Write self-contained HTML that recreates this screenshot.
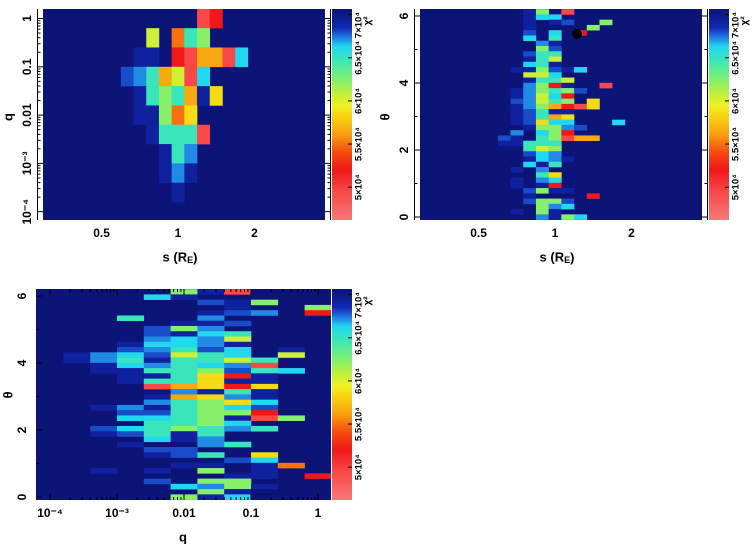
<!DOCTYPE html>
<html><head><meta charset="utf-8"><style>
html,body{margin:0;padding:0;background:#fff;}
svg{display:block;font-family:"Liberation Sans",sans-serif;font-weight:bold;}
</style></head><body>
<svg id="c" width="754" height="545" viewBox="0 0 754 545" xmlns="http://www.w3.org/2000/svg"></svg>
<script>
// ---- colour-level values (chi^2) for each grid code ----
const levelCodes = ['.','b','B','l','c','g','G','y','Y','o','O','r','R','p'];
const levelValues = [70650,69200,68000,67200,66300,64800,62300,60500,58500,56500,55000,52000,49500,47000];
// colour bar
const cbMin = 46200, cbMax = 70650;
const cbTicks = [50000,55000,60000,65000,70000];
const cbTickLabels = ['5×10⁴','5.5×10⁴','6×10⁴','6.5×10⁴','7×10⁴'];
// panel 1: s vs q grid (rows = log q bins 0,-0.4,...; cols = log s bins -0.5+0.05c)
const p1Rows = [
"............Rr........",
"........y.OgG.........",
".......bb.rRooRc......",
"......BlgoyRc.........",
".......bgGgobY........",
".......bbGOY..........",
"........bgggR.........",
".........bgl..........",
".........blb..........",
"..........b...........",
"......................"];
// panel 2: s vs theta (rows from theta bin 39 down to 0)
const p2Rows = [
"........bG.R..........",
"........bcc...........",
"........b.bB..G.......",
"........b....G........",
"........B.c.r.........",
"........c.g...........",
".........lb...........",
".........GB...........",
"........Bgg...........",
"........bgy...........",
"........cgb...........",
".......bbGBbc.........",
"........yyc...........",
"........bggy..........",
"........lGrb..R.......",
".......blGgGB.........",
".......blycr..........",
".......BlygG.Y........",
".......blGorRY........",
".......bBgbb..........",
".......bBgoY..........",
".......bBYcc...c......",
"........bGGlB.........",
".......l.cGr..........",
"......Bb.gGRoo........",
"......bbggg...........",
"........gyG...........",
"........Bcl...........",
"........bclb..........",
"........cbg...........",
".......b.l............",
".........gY...........",
".......b.lc...........",
".......b.br...........",
"........BGbb..........",
"........b....r........",
"........BGGB..........",
".........Glc..........",
".......b.Gb...........",
".........lbGc........."];
// panel 3: q vs theta (rows from theta bin 39 down to 0; cols log q = -4+0.4c)
const p3Rows = [
".....GbR...",
"....cb.....",
"......BbG..",
".......b..G",
"......bBl.r",
"...g..l....",
".....bbB...",
"....BGl....",
"....Bbcg...",
"....lcly...",
"...bcclb...",
"...BlgBc.b.",
".blcBygc.y.",
".blgbggyg..",
"..bclgclR..",
"..bbggGBgc.",
"...bbgYrb..",
"...bggYbb..",
"....RoYrY..",
".....lbgb..",
"....boYlb..",
"....lgGYc..",
"..blbgGcB..",
"...BBgGGr..",
"...ccgGbRG.",
"....ggGc...",
"..BcgGglg..",
"..bBgbg....",
"....cbl....",
"...b..lg...",
"....BB.....",
"....bBg.Y..",
".......Bc..",
".....bb.bO.",
"..b.b.G.b..",
".......bb.r",
"....B.GG...",
".....clGb..",
"......Gb...",
".....Gbc..."];
const sTicks = [0.5,1,2];
const sTickLabels = ['0.5','1','2'];
const qTicks1 = [0,-1,-2,-3,-4];
const qTickLabels1 = ['1','0.1','0.01','10⁻³','10⁻⁴'];
const thTicks = [0,2,4,6];
const thTickLabels = ['0','2','4','6'];
const qTicks3 = [-4,-3,-2,-1,0];
const qTickLabels3 = ['10⁻⁴','10⁻³','0.01','0.1','1'];

const NS='http://www.w3.org/2000/svg';
const svg=document.getElementById('c');
function mk(tag,attrs,parent){const e=document.createElementNS(NS,tag);for(const k in attrs)e.setAttribute(k,attrs[k]);(parent||svg).appendChild(e);return e;}
const stops=[[46200,[248,120,120]],[49500,[248,72,72]],[52000,[240,24,24]],[54000,[248,72,16]],[56000,[248,154,16]],[58000,[248,208,16]],[59500,[240,240,32]],[61000,[184,240,64]],[62500,[128,240,112]],[64500,[64,232,176]],[66300,[32,216,240]],[67500,[32,112,224]],[68500,[16,40,176]],[70650,[12,20,120]]];
function cmap(v){v=Math.max(stops[0][0],Math.min(stops[stops.length-1][0],v));for(let i=1;i<stops.length;i++){if(v<=stops[i][0]){const a=stops[i-1],b=stops[i],t=(v-a[0])/(b[0]-a[0]);const c=a[1].map((x,j)=>Math.round(x+(b[1][j]-x)*t));return 'rgb('+c.join(',')+')';}}}
function codeVal(ch){return levelValues[levelCodes.indexOf(ch)];}
let clipN=0;
function panel(name,x0,y0,x1,y1,rows,colCenter,colHalf,xf,rowCenter,rowHalf,yf){
  const g=mk('g',{});
  
  
  const id='cl'+(clipN++);
  const cp=mk('clipPath',{id:id},g);mk('rect',{x:x0,y:y0,width:x1-x0,height:y1-y0},cp);
  const bg=mk('rect',{x:x0,y:y0,width:x1-x0,height:y1-y0,fill:cmap(codeVal('.'))},g);
  
  
  const cg=mk('g',{'clip-path':'url(#'+id+')'},g);
  rows.forEach((row,r)=>{for(let c=0;c<row.length;c++){const ch=row[c];if(ch==='.')continue;
    const xa=xf(colCenter(c)-colHalf),xb=xf(colCenter(c)+colHalf);
    const ya=yf(rowCenter(r)+rowHalf),yb=yf(rowCenter(r)-rowHalf);
    const e=mk('rect',{x:Math.min(xa,xb),y:Math.min(ya,yb),width:Math.abs(xb-xa)+0.3,height:Math.abs(yb-ya)+0.3,fill:cmap(codeVal(ch))},cg);
    
    
  }});
  return g;
}
function text(str,x,y,name,rot,size){const t=mk('text',{x:x,y:y,'font-size':size||12,'text-anchor':'middle','dominant-baseline':'central'});if(rot)t.setAttribute('transform','rotate(-90 '+x+' '+y+')');t.textContent=str;return t;}
function line(x1,y1,x2,y2,w){mk('line',{x1:x1,y1:y1,x2:x2,y2:y2,stroke:'#000','stroke-width':w||1});}
function colorbar(name,x,y0,y1,lx){
  const gid='gr'+name;
  const lg=mk('linearGradient',{id:gid,x1:0,y1:1,x2:0,y2:0});
  stops.forEach(s=>mk('stop',{offset:(s[0]-cbMin)/(cbMax-cbMin),'stop-color':'rgb('+s[1].join(',')+')'},lg));
  const r=mk('rect',{x:x,y:y0,width:20,height:y1-y0,fill:'url(#'+gid+')'});
  
  
  const cy=v=>y1-(v-cbMin)/(cbMax-cbMin)*(y1-y0);
  cbTicks.forEach((v,i)=>{let yy=cy(v);line(x+16,yy,x+20,yy);if(i===cbTicks.length-1)yy=y0+16;text(cbTickLabels[i],lx,yy,name+'-tick-label',true,9.5);});
  text('χ²',lx+9,y0+12,name+'-title',true,10);
}
// Panel 1
const xs1=l=>178+254*l, yq1=l=>18.5-48.3*l;
panel('panel-s-q',43,9,325,220,p1Rows,c=>-0.5+0.05*c,0.025,xs1,r=>-0.4*r,0.2,yq1);
line(37.5,9,37.5,220);line(330.5,9,330.5,220);
for(let d=-4;d<=0;d++){for(let m=1;m<10;m++){const l=d+Math.log10(m);if(l>0.21)continue;const yy=yq1(l);const len=m===1?6:3;line(37.5,yy,37.5+len,yy);line(330.5,yy,330.5-len,yy);}}
qTicks1.forEach((v,i)=>text(qTickLabels1[i],27,yq1(v),'q-tick-label',true,12));
sTicks.forEach((v,i)=>text(sTickLabels[i],xs1(Math.log10(v)),233,'s-tick-label',false,12));
text('s (R',180,257,'x-axis-title-s',false,13).innerHTML='s (R<tspan font-size="9" dy="3">E</tspan><tspan dy="-3">)</tspan>';
text('q',8,117,'y-axis-title-q',true,13);
colorbar('colorbar-1',332,9,220,359);
// Panel 2
const dth=2*Math.PI/40;
const xs2=l=>555+254*l, yt2=t=>217-33.5*t;
panel('panel-s-theta',420,9,702,220,p2Rows,c=>-0.5+0.05*c,0.025,xs2,r=>(39-r)*dth,dth/2,yt2);
line(414.5,9,414.5,220);line(707.5,9,707.5,220);
for(let t=0;t<=6;t++){const yy=yt2(t);const len=t%2===0?6:3;line(414.5,yy,414.5+len,yy);line(707.5,yy,707.5-len,yy);}
thTicks.forEach((v,i)=>text(thTickLabels[i],404,yt2(v),'theta-tick-label',true,12));
sTicks.forEach((v,i)=>text(sTickLabels[i],xs2(Math.log10(v)),233,'s-tick-label',false,12));
text('s',557,257,'x-axis-title-s2',false,13).innerHTML='s (R<tspan font-size="9" dy="3">E</tspan><tspan dy="-3">)</tspan>';
text('θ',385,117,'y-axis-title-theta',true,13);
const dot=mk('circle',{cx:577,cy:34,r:5,fill:'#000'});


colorbar('colorbar-2',709,9,220,736);
// Panel 3
const xq3=l=>50+67*(l+4), yt3=t=>497-33.5*t;
panel('panel-q-theta',36,289,331,500,p3Rows,c=>-4+0.4*c,0.2,xq3,r=>(39-r)*dth,dth/2,yt3);
for(let d=-4;d<=0;d++){for(let m=1;m<10;m++){const l=d+Math.log10(m);const xx=xq3(l);if(xx<36||xx>331)continue;const len=m===1?6:3;line(xx,289,xx,289+len);line(xx,500,xx,500-len);}}
for(let t=0;t<=6;t++){const yy=yt3(t);const len=t%2===0?6:3;line(36,yy,36+len,yy,0.8);}
thTicks.forEach((v,i)=>text(thTickLabels[i],22,yt3(v),'theta-tick-label',true,12));
qTicks3.forEach((v,i)=>text(qTickLabels3[i],xq3(v),513,'q-tick-label',false,12));
text('q',183,537,'x-axis-title-q',false,13);
text('θ',8,395,'y-axis-title-theta3',true,13);
colorbar('colorbar-3',332,289,500,359);
</script>
</body></html>
